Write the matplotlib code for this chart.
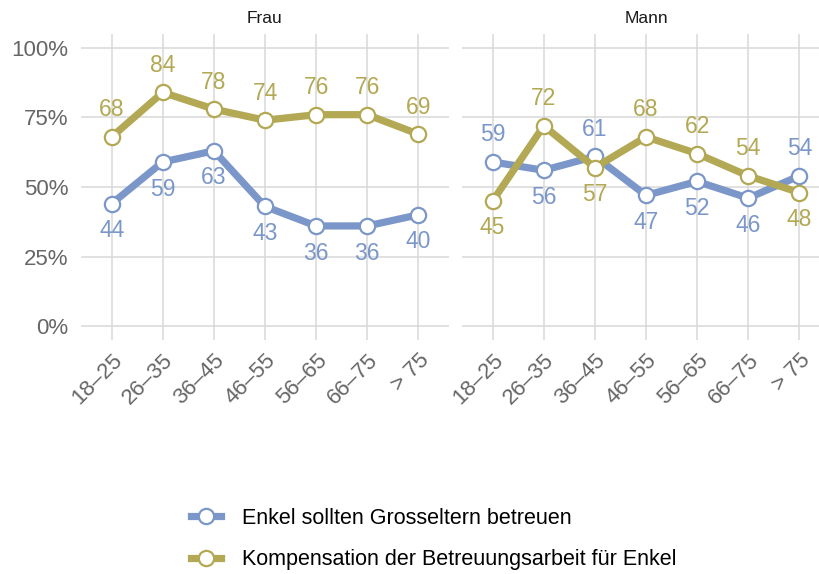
import numpy as np
import matplotlib
matplotlib.use("Agg")
import matplotlib.pyplot as plt
from matplotlib.lines import Line2D

plt.rcParams['font.family'] = ['Liberation Sans', 'DejaVu Sans']

# age groups and shares (percent) per panel
age_groups = ['18–25', '26–35', '36–45', '46–55', '56–65', '66–75', '> 75']
panels = ['Frau', 'Mann']
betreuen = {'Frau': [44, 59, 63, 43, 36, 36, 40],
            'Mann': [59, 56, 61, 47, 52, 46, 54]}
kompensation = {'Frau': [68, 84, 78, 74, 76, 76, 69],
                'Mann': [45, 72, 57, 68, 62, 54, 48]}
# +1 = label above the point, -1 = below
betreuen_side = {'Frau': [-1, -1, -1, -1, -1, -1, -1],
                 'Mann': [1, -1, 1, -1, -1, -1, 1]}
kompensation_side = {'Frau': [1, 1, 1, 1, 1, 1, 1],
                     'Mann': [-1, 1, -1, 1, 1, 1, -1]}

series_names = ['Enkel sollten Grosseltern betreuen',
                'Kompensation der Betreuungsarbeit für Enkel']
blue = '#7b97c9'
gold = '#b3a853'
grid_col = '#d9d9d9'
tick_col = '#666666'

W, H = 819, 574
fig = plt.figure(figsize=(W / 100, H / 100), dpi=100)

panel_px = {'Frau': (81, 449), 'Mann': (462, 830)}
top_px, bottom_px = 34, 340

x = np.arange(1, len(age_groups) + 1)

for name in panels:
    l, r = panel_px[name]
    ax = fig.add_axes([l / W, (H - bottom_px) / H, (r - l) / W, (bottom_px - top_px) / H])
    ax.set_xlim(0.4, 7.6)
    ax.set_ylim(-0.05, 1.05)
    for s in ax.spines.values():
        s.set_visible(False)
    ax.set_yticks([0, 0.25, 0.5, 0.75, 1.0])
    ax.set_xticks(x)
    ax.grid(True, color=grid_col, linewidth=1.1)
    ax.set_axisbelow(True)
    ax.tick_params(length=0, labelsize=16, labelcolor=tick_col)
    if name == 'Frau':
        ax.set_yticklabels(['0%', '25%', '50%', '75%', '100%'])
        ax.tick_params(axis='y', pad=9)
    else:
        ax.set_yticklabels([])
    ax.set_xticklabels(age_groups, rotation=45, ha='right', va='top',
                       rotation_mode='anchor')
    ax.tick_params(axis='x', pad=7)
    ax.set_title(name, fontsize=12.5, color='#1a1a1a', pad=8)

    for vals, sides, col in [(betreuen[name], betreuen_side[name], blue),
                             (kompensation[name], kompensation_side[name], gold)]:
        y = np.array(vals) / 100
        ax.plot(x, y, color=col, linewidth=5.2, solid_capstyle='butt', zorder=3,
                marker='o', markersize=11, markerfacecolor='white',
                markeredgecolor=col, markeredgewidth=1.6)
        for xi, yi, v, sd in zip(x, y, vals, sides):
            ax.annotate(str(v), (xi, yi), xytext=(0, 19.5 * sd),
                        textcoords='offset points', ha='center', va='center',
                        fontsize=16.5, color=col, zorder=4)

handles = [Line2D([], [], color=c, linewidth=5.2, marker='o', markersize=11,
                  markerfacecolor='white', markeredgecolor=c, markeredgewidth=1.6)
           for c in (blue, gold)]
fig.legend(handles, series_names, loc='upper left',
           bbox_to_anchor=(182 / W, 1 - 499 / H), frameon=False,
           fontsize=15.5, handlelength=1.4, handletextpad=1.0,
           labelspacing=0.95, borderaxespad=0)

fig.savefig('out.png', dpi=100, facecolor='white')
